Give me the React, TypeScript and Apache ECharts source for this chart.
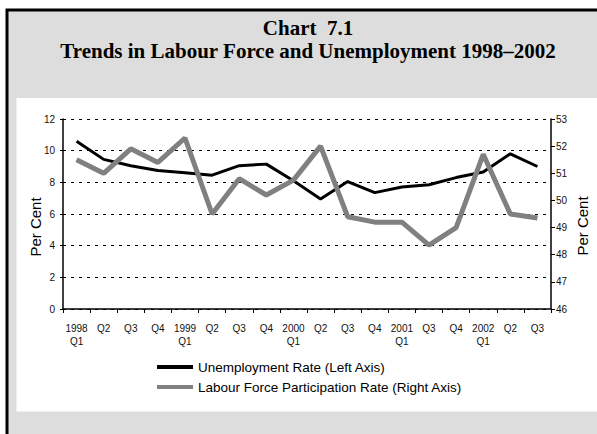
import React, { useEffect, useRef } from "react";
import * as echarts from "echarts";

const categories = [
  "1998\nQ1", "Q2", "Q3", "Q4",
  "1999\nQ1", "Q2", "Q3", "Q4",
  "2000\nQ1", "Q2", "Q3", "Q4",
  "2001\nQ1", "Q3", "Q4",
  "2002\nQ1", "Q2", "Q3",
];

const unemploymentRate = [
  10.6, 9.45, 9.05, 8.75, 8.6, 8.45, 9.05, 9.15, 8.1, 6.95, 8.05, 7.35, 7.7, 7.85, 8.3, 8.65, 9.8, 9.0,
];

const participationRate = [
  51.5, 51.0, 51.9, 51.4, 52.3, 49.5, 50.8, 50.2, 50.75, 52.0, 49.4, 49.2, 49.2, 48.35, 49.0, 51.7, 49.5, 49.35,
];

const titleLine1 = "Chart  7.1";
const titleLine2 = "Trends in Labour Force and Unemployment 1998\u20132002";
const seriesNames = ["Unemployment Rate (Left Axis)", "Labour Force Participation Rate (Right Axis)"];
const axisTitle = "Per Cent";

export default function App() {
  const ref = useRef<HTMLDivElement>(null);

  useEffect(() => {
    if (!ref.current) return;
    const chart = echarts.init(ref.current, undefined, { renderer: "svg" });
    const sans = "Arial, 'Liberation Sans', sans-serif";
    const serif = "'Times New Roman', 'Liberation Serif', serif";
    chart.setOption({
      animation: false,
      backgroundColor: "#ffffff",
      graphic: [
        {
          type: "rect",
          z: -10,
          silent: true,
          shape: { x: 7, y: 10, width: 640, height: 480 },
          style: { fill: "#dddddd", stroke: "#000000", lineWidth: 3 },
        },
        {
          type: "rect",
          z: -9,
          silent: true,
          shape: { x: 16.5, y: 98, width: 620, height: 313.5 },
          style: { fill: "#ffffff" },
        },
        {
          type: "text",
          x: 308,
          y: 28,
          style: {
            text: titleLine1,
            fontFamily: serif,
            fontWeight: "bold",
            fontSize: 21,
            fill: "#000",
            textAlign: "center",
            textVerticalAlign: "middle",
          },
        },
        {
          type: "text",
          x: 308,
          y: 51,
          style: {
            text: titleLine2,
            fontFamily: serif,
            fontWeight: "bold",
            fontSize: 21,
            fill: "#000",
            textAlign: "center",
            textVerticalAlign: "middle",
          },
        },
        {
          type: "text",
          x: 35,
          y: 227,
          rotation: Math.PI / 2,
          style: {
            text: axisTitle,
            fontFamily: sans,
            fontSize: 15,
            fill: "#000",
            textAlign: "center",
            textVerticalAlign: "middle",
          },
        },
        {
          type: "text",
          x: 582,
          y: 226,
          rotation: Math.PI / 2,
          style: {
            text: axisTitle,
            fontFamily: sans,
            fontSize: 15,
            fill: "#000",
            textAlign: "center",
            textVerticalAlign: "middle",
          },
        },
      ],
      grid: { left: 63, right: 46, top: 119, bottom: 125, containLabel: false },
      legend: {
        orient: "vertical",
        left: 157,
        top: 360,
        itemWidth: 36,
        itemHeight: 4,
        itemGap: 6,
        padding: 0,
        textStyle: { fontFamily: sans, fontSize: 13.5, color: "#000", lineHeight: 14 },
        data: [
          { name: seriesNames[0], icon: "rect", itemStyle: { color: "#000000" } },
          { name: seriesNames[1], icon: "rect", itemStyle: { color: "#808080" } },
        ],
      },
      xAxis: {
        type: "category",
        data: categories,
        boundaryGap: true,
        axisLine: { lineStyle: { color: "#000", width: 1.5 } },
        axisTick: { show: true, length: 4, interval: 0, lineStyle: { color: "#000" } },
        axisLabel: {
          interval: 0,
          margin: 13,
          fontFamily: sans,
          fontSize: 10,
          lineHeight: 13,
          color: "#111",
        },
        splitLine: { show: false },
      },
      yAxis: [
        {
          type: "value",
          min: 0,
          max: 12,
          interval: 2,
          position: "left",
          axisLine: { show: true, lineStyle: { color: "#000", width: 1.5 } },
          axisTick: { show: true, length: 3, lineStyle: { color: "#000" } },
          axisLabel: { margin: 8, fontFamily: sans, fontSize: 10, color: "#111" },
          splitLine: { show: true, lineStyle: { color: "#000", width: 1, type: [3, 5] } },
        },
        {
          type: "value",
          min: 46,
          max: 53,
          interval: 1,
          position: "right",
          axisLine: { show: true, lineStyle: { color: "#000", width: 1.5 } },
          axisTick: { show: true, length: 4, lineStyle: { color: "#000" } },
          axisLabel: { margin: 5, fontFamily: sans, fontSize: 10, color: "#111" },
          splitLine: { show: false },
        },
      ],
      series: [
        {
          name: seriesNames[0],
          type: "line",
          yAxisIndex: 0,
          data: unemploymentRate,
          showSymbol: false,
          symbol: "none",
          lineStyle: { color: "#000000", width: 3 },
          itemStyle: { color: "#000000" },
        },
        {
          name: seriesNames[1],
          type: "line",
          yAxisIndex: 1,
          data: participationRate,
          showSymbol: false,
          symbol: "none",
          lineStyle: { color: "#808080", width: 5 },
          itemStyle: { color: "#808080" },
        },
      ],
    });
    return () => chart.dispose();
  }, []);

  return (
    <div
      ref={ref}
      style={{ position: "fixed", left: 0, top: 0, width: 597, height: 434 }}
    />
  );
}
